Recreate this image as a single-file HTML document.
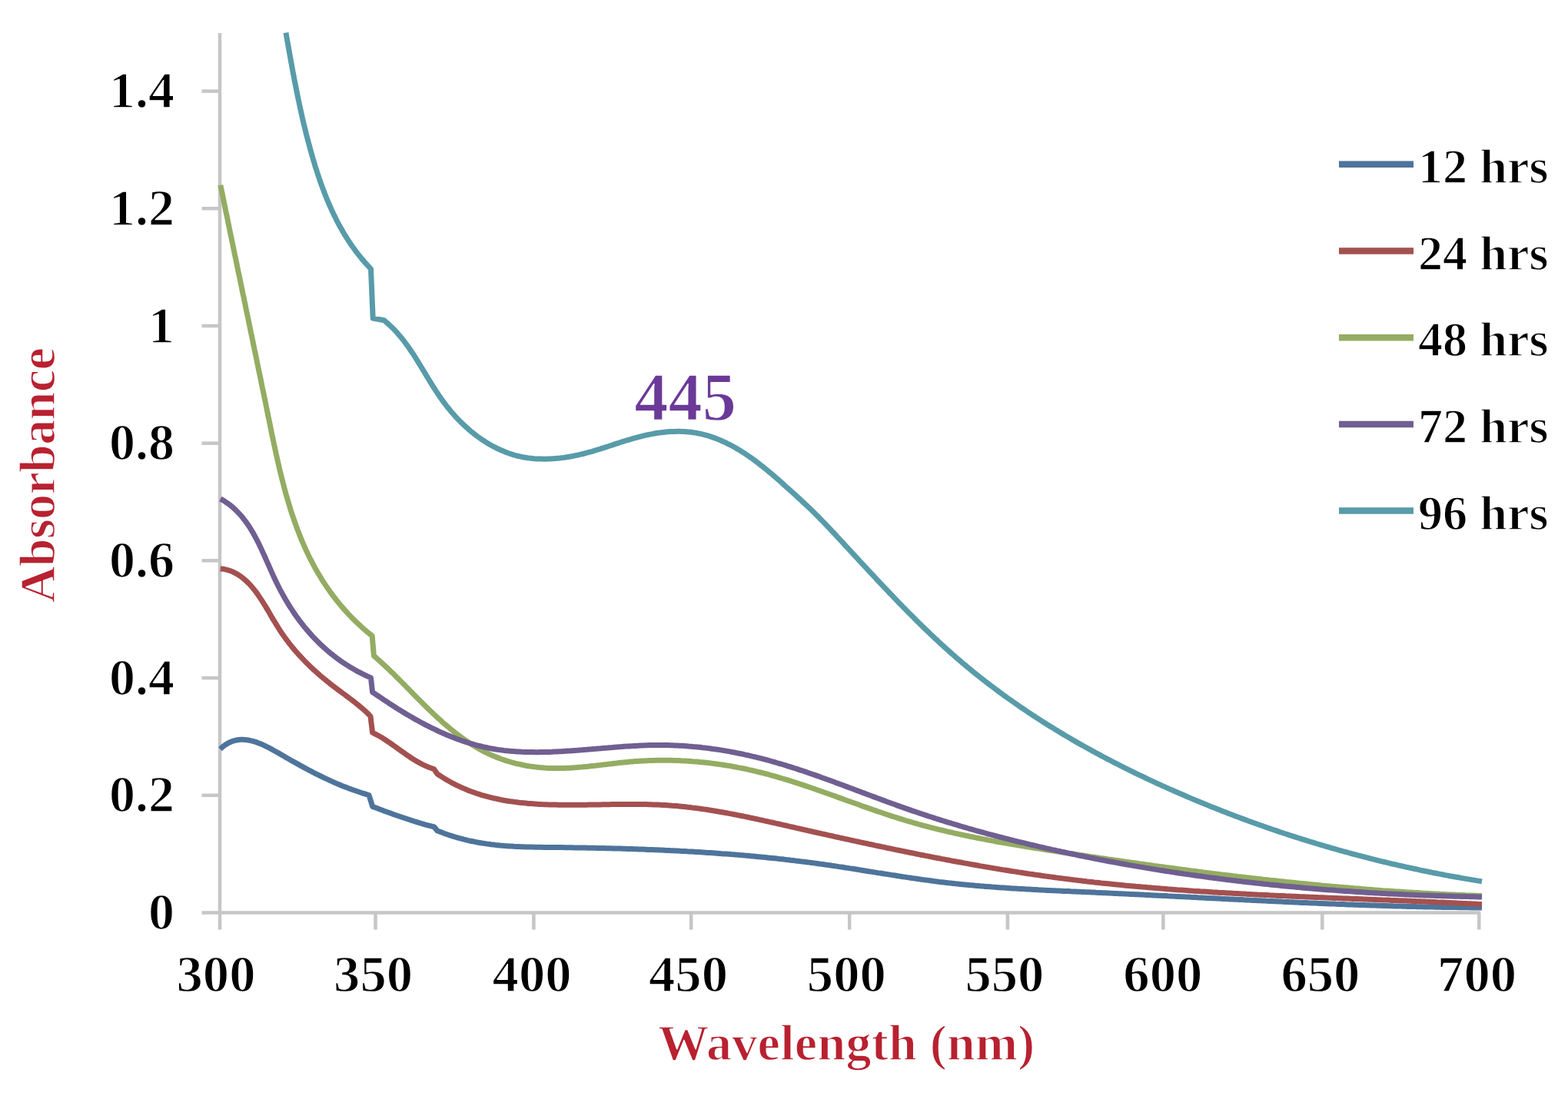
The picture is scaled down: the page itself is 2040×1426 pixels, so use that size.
<!DOCTYPE html>
<html><head><meta charset="utf-8"><title>Absorbance vs Wavelength</title>
<style>
html,body{margin:0;padding:0;background:#fff;}
body{width:2040px;height:1426px;overflow:hidden;}
svg{display:block;filter:blur(0.75px);}
</style></head><body>
<svg width="2040" height="1426" viewBox="0 0 2040 1426">
<rect width="2040" height="1426" fill="#fff"/>
<g stroke="#c6c6c6" stroke-width="4.5" fill="none">
<line x1="286" y1="43" x2="286" y2="1209.5"/>
<line x1="262.5" y1="1187.5" x2="1926" y2="1187.5"/>
<line x1="262.5" y1="1034.8" x2="286" y2="1034.8"/>
<line x1="262.5" y1="882.1" x2="286" y2="882.1"/>
<line x1="262.5" y1="729.4" x2="286" y2="729.4"/>
<line x1="262.5" y1="576.7" x2="286" y2="576.7"/>
<line x1="262.5" y1="424.0" x2="286" y2="424.0"/>
<line x1="262.5" y1="271.3" x2="286" y2="271.3"/>
<line x1="262.5" y1="118.6" x2="286" y2="118.6"/>
<line x1="488.5" y1="1187.5" x2="488.5" y2="1209.5"/>
<line x1="694.4" y1="1187.5" x2="694.4" y2="1209.5"/>
<line x1="899.2" y1="1187.5" x2="899.2" y2="1209.5"/>
<line x1="1105.2" y1="1187.5" x2="1105.2" y2="1209.5"/>
<line x1="1310.9" y1="1187.5" x2="1310.9" y2="1209.5"/>
<line x1="1513.4" y1="1187.5" x2="1513.4" y2="1209.5"/>
<line x1="1720.3" y1="1187.5" x2="1720.3" y2="1209.5"/>
<line x1="1924.3" y1="1187.5" x2="1924.3" y2="1209.5"/>
</g>
<g fill="none" stroke-width="7.0" stroke-linejoin="round" stroke-linecap="butt">
<path stroke="#4e749b" d="M286.5 974.7 L289.0 972.3 291.6 970.2 294.3 968.4 296.9 966.8 299.6 965.5 302.3 964.4 305.0 963.6 307.7 963.0 310.5 962.5 313.2 962.3 316.0 962.3 318.7 962.4 321.5 962.7 324.3 963.2 327.0 963.8 329.8 964.5 332.6 965.4 335.4 966.4 338.2 967.5 341.0 968.6 343.8 969.9 346.6 971.3 349.4 972.7 352.2 974.1 355.0 975.7 357.7 977.2 360.5 978.8 363.3 980.4 366.1 982.0 368.8 983.6 371.6 985.2 374.3 986.8 377.0 988.3 379.7 989.9 382.5 991.4 385.2 992.9 387.9 994.4 390.6 995.9 393.3 997.4 396.0 998.9 398.7 1000.3 401.4 1001.8 404.1 1003.2 406.8 1004.6 409.5 1006.0 412.2 1007.3 414.9 1008.7 417.6 1010.0 420.3 1011.3 423.0 1012.6 425.8 1013.9 428.5 1015.2 431.2 1016.4 434.0 1017.7 436.8 1018.9 439.5 1020.1 442.3 1021.2 445.1 1022.4 447.9 1023.5 450.8 1024.6 453.6 1025.7 456.5 1026.8 459.3 1027.8 462.2 1028.8 465.2 1029.8 468.1 1030.8 471.0 1031.8 474.0 1032.7 477.0 1033.6 480.0 1034.5 L484.7 1049.4 L487.6 1050.5 490.5 1051.6 493.4 1052.7 496.4 1053.8 499.3 1054.9 502.2 1056.0 505.2 1057.0 508.1 1058.1 511.1 1059.2 514.0 1060.2 517.0 1061.3 520.0 1062.3 522.9 1063.3 525.9 1064.3 528.9 1065.3 531.9 1066.3 534.9 1067.3 537.9 1068.2 540.9 1069.2 543.9 1070.1 546.9 1071.0 549.9 1071.9 552.9 1072.8 555.9 1073.6 558.9 1074.4 562.0 1075.2 565.0 1076.0 L569.0 1081.0 L571.9 1082.0 574.7 1083.1 577.6 1084.2 580.5 1085.2 583.4 1086.2 586.3 1087.2 589.2 1088.1 592.1 1089.0 595.0 1089.9 597.9 1090.7 600.8 1091.4 603.7 1092.2 606.6 1092.9 609.5 1093.6 612.5 1094.2 615.4 1094.8 618.3 1095.4 621.3 1096.0 624.2 1096.5 627.2 1097.0 630.1 1097.4 633.1 1097.9 636.0 1098.3 639.0 1098.7 642.0 1099.0 644.9 1099.4 647.9 1099.7 650.9 1100.0 653.8 1100.2 656.8 1100.5 659.8 1100.7 662.8 1100.9 665.8 1101.1 668.8 1101.3 671.7 1101.4 674.7 1101.5 677.7 1101.7 680.7 1101.8 683.7 1101.9 686.7 1102.0 689.7 1102.1 692.7 1102.1 695.7 1102.2 698.7 1102.2 701.7 1102.3 704.7 1102.3 707.7 1102.4 710.7 1102.4 713.8 1102.4 716.8 1102.5 719.8 1102.5 722.8 1102.5 725.8 1102.6 728.8 1102.6 731.8 1102.6 734.8 1102.7 737.8 1102.7 740.8 1102.8 743.8 1102.8 746.8 1102.9 749.8 1102.9 752.8 1103.0 755.8 1103.0 758.9 1103.1 761.9 1103.1 764.9 1103.2 767.9 1103.2 770.9 1103.3 773.9 1103.3 776.9 1103.4 779.9 1103.5 782.9 1103.5 785.9 1103.6 788.9 1103.7 791.9 1103.7 794.9 1103.8 797.9 1103.9 801.0 1104.0 804.0 1104.1 807.0 1104.1 810.0 1104.2 813.0 1104.3 816.0 1104.4 819.0 1104.5 822.0 1104.6 825.0 1104.7 828.0 1104.8 831.0 1104.9 834.0 1105.0 837.0 1105.1 840.0 1105.2 843.0 1105.4 846.0 1105.5 849.0 1105.6 852.0 1105.7 855.1 1105.8 858.1 1106.0 861.1 1106.1 864.1 1106.2 867.1 1106.4 870.1 1106.5 873.1 1106.7 876.1 1106.8 879.1 1107.0 882.1 1107.1 885.1 1107.3 888.1 1107.4 891.1 1107.6 894.1 1107.8 897.1 1107.9 900.1 1108.1 903.1 1108.3 906.1 1108.5 909.1 1108.6 912.1 1108.8 915.1 1109.0 918.1 1109.2 921.1 1109.4 924.1 1109.6 927.1 1109.8 930.1 1110.0 933.1 1110.2 936.1 1110.4 939.1 1110.7 942.1 1110.9 945.1 1111.1 948.1 1111.3 951.1 1111.6 954.1 1111.8 957.1 1112.1 960.1 1112.3 963.0 1112.6 966.0 1112.8 969.0 1113.1 972.0 1113.3 975.0 1113.6 978.0 1113.9 981.0 1114.1 984.0 1114.4 987.0 1114.7 990.0 1115.0 993.0 1115.3 996.0 1115.6 999.0 1115.9 1001.9 1116.2 1004.9 1116.5 1007.9 1116.8 1010.9 1117.1 1013.9 1117.5 1016.9 1117.8 1019.9 1118.1 1022.9 1118.5 1025.8 1118.8 1028.8 1119.2 1031.8 1119.5 1034.8 1119.9 1037.8 1120.2 1040.8 1120.6 1043.7 1121.0 1046.7 1121.3 1049.7 1121.7 1052.7 1122.1 1055.7 1122.5 1058.7 1122.9 1061.6 1123.3 1064.6 1123.7 1067.6 1124.1 1070.6 1124.5 1073.6 1125.0 1076.5 1125.4 1079.5 1125.8 1082.5 1126.3 1085.5 1126.7 1088.4 1127.1 1091.4 1127.6 1094.4 1128.0 1097.4 1128.5 1100.3 1129.0 1103.3 1129.4 1106.3 1129.9 1109.2 1130.3 1112.2 1130.8 1115.2 1131.3 1118.2 1131.8 1121.1 1132.2 1124.1 1132.7 1127.1 1133.2 1130.1 1133.7 1133.0 1134.1 1136.0 1134.6 1139.0 1135.1 1141.9 1135.6 1144.9 1136.0 1147.9 1136.5 1150.9 1137.0 1153.8 1137.4 1156.8 1137.9 1159.8 1138.4 1162.8 1138.8 1165.7 1139.3 1168.7 1139.8 1171.7 1140.2 1174.6 1140.7 1177.6 1141.1 1180.6 1141.6 1183.6 1142.0 1186.5 1142.5 1189.5 1142.9 1192.5 1143.3 1195.5 1143.8 1198.5 1144.2 1201.4 1144.6 1204.4 1145.0 1207.4 1145.4 1210.4 1145.8 1213.3 1146.2 1216.3 1146.6 1219.3 1147.0 1222.3 1147.4 1225.3 1147.7 1228.3 1148.1 1231.2 1148.4 1234.2 1148.8 1237.2 1149.1 1240.2 1149.4 1243.2 1149.8 1246.2 1150.1 1249.2 1150.4 1252.2 1150.7 1255.1 1151.0 1258.1 1151.3 1261.1 1151.6 1264.1 1151.8 1267.1 1152.1 1270.1 1152.4 1273.1 1152.6 1276.1 1152.9 1279.1 1153.1 1282.1 1153.4 1285.1 1153.6 1288.1 1153.8 1291.1 1154.1 1294.1 1154.3 1297.1 1154.5 1300.1 1154.7 1303.1 1154.9 1306.1 1155.1 1309.1 1155.3 1312.1 1155.5 1315.1 1155.7 1318.1 1155.9 1321.1 1156.1 1324.1 1156.3 1327.1 1156.5 1330.1 1156.6 1333.1 1156.8 1336.1 1157.0 1339.1 1157.1 1342.1 1157.3 1345.1 1157.5 1348.1 1157.6 1351.1 1157.8 1354.1 1157.9 1357.1 1158.1 1360.1 1158.2 1363.1 1158.4 1366.1 1158.5 1369.1 1158.7 1372.1 1158.8 1375.1 1159.0 1378.1 1159.1 1381.1 1159.2 1384.1 1159.4 1387.1 1159.5 1390.1 1159.6 1393.2 1159.8 1396.2 1159.9 1399.2 1160.0 1402.2 1160.2 1405.2 1160.3 1408.2 1160.4 1411.2 1160.6 1414.2 1160.7 1417.2 1160.8 1420.2 1161.0 1423.2 1161.1 1426.2 1161.3 1429.2 1161.4 1432.2 1161.5 1435.2 1161.7 1438.2 1161.8 1441.2 1161.9 1444.2 1162.1 1447.3 1162.2 1450.3 1162.4 1453.3 1162.5 1456.3 1162.7 1459.3 1162.8 1462.3 1162.9 1465.3 1163.1 1468.3 1163.2 1471.3 1163.4 1474.3 1163.5 1477.3 1163.7 1480.3 1163.8 1483.3 1164.0 1486.3 1164.1 1489.3 1164.3 1492.3 1164.4 1495.3 1164.6 1498.3 1164.7 1501.3 1164.9 1504.3 1165.0 1507.3 1165.2 1510.3 1165.3 1513.3 1165.5 1516.3 1165.6 1519.4 1165.8 1522.4 1165.9 1525.4 1166.1 1528.4 1166.2 1531.4 1166.4 1534.4 1166.5 1537.4 1166.7 1540.4 1166.8 1543.4 1167.0 1546.4 1167.1 1549.4 1167.3 1552.4 1167.4 1555.4 1167.6 1558.4 1167.8 1561.4 1167.9 1564.4 1168.1 1567.4 1168.2 1570.4 1168.4 1573.4 1168.5 1576.4 1168.7 1579.4 1168.8 1582.4 1169.0 1585.4 1169.1 1588.4 1169.3 1591.4 1169.4 1594.4 1169.6 1597.4 1169.7 1600.4 1169.9 1603.4 1170.0 1606.4 1170.2 1609.4 1170.3 1612.4 1170.5 1615.4 1170.6 1618.4 1170.8 1621.4 1170.9 1624.5 1171.1 1627.5 1171.2 1630.5 1171.4 1633.5 1171.5 1636.5 1171.7 1639.5 1171.8 1642.5 1172.0 1645.5 1172.1 1648.5 1172.3 1651.5 1172.4 1654.5 1172.5 1657.5 1172.7 1660.5 1172.8 1663.5 1173.0 1666.5 1173.1 1669.5 1173.3 1672.5 1173.4 1675.5 1173.5 1678.5 1173.7 1681.5 1173.8 1684.5 1173.9 1687.5 1174.1 1690.5 1174.2 1693.5 1174.4 1696.5 1174.5 1699.5 1174.6 1702.5 1174.8 1705.5 1174.9 1708.5 1175.0 1711.5 1175.1 1714.5 1175.3 1717.5 1175.4 1720.5 1175.5 1723.6 1175.7 1726.6 1175.8 1729.6 1175.9 1732.6 1176.0 1735.6 1176.1 1738.6 1176.3 1741.6 1176.4 1744.6 1176.5 1747.6 1176.6 1750.6 1176.7 1753.6 1176.9 1756.6 1177.0 1759.6 1177.1 1762.6 1177.2 1765.6 1177.3 1768.6 1177.4 1771.6 1177.5 1774.6 1177.6 1777.6 1177.7 1780.6 1177.8 1783.6 1177.9 1786.6 1178.0 1789.6 1178.1 1792.7 1178.2 1795.7 1178.3 1798.7 1178.4 1801.7 1178.5 1804.7 1178.6 1807.7 1178.7 1810.7 1178.8 1813.7 1178.9 1816.7 1179.0 1819.7 1179.1 1822.7 1179.1 1825.7 1179.2 1828.7 1179.3 1831.7 1179.4 1834.7 1179.5 1837.7 1179.5 1840.7 1179.6 1843.8 1179.7 1846.8 1179.8 1849.8 1179.8 1852.8 1179.9 1855.8 1180.0 1858.8 1180.0 1861.8 1180.1 1864.8 1180.1 1867.8 1180.2 1870.8 1180.3 1873.8 1180.3 1876.8 1180.4 1879.8 1180.4 1882.9 1180.5 1885.9 1180.5 1888.9 1180.6 1891.9 1180.6 1894.9 1180.6 1897.9 1180.7 1900.9 1180.7 1903.9 1180.8 1906.9 1180.8 1909.9 1180.8 1913.0 1180.9 1916.0 1180.9 1919.0 1180.9 1922.0 1180.9 1925.0 1180.9 1928.0 1181.0"/>
<path stroke="#a35150" d="M286.7 739.9 L289.9 740.2 293.1 740.9 296.1 741.6 299.0 742.5 301.8 743.6 304.5 744.8 307.1 746.2 309.6 747.6 312.1 749.2 314.4 750.9 316.7 752.7 318.9 754.6 321.1 756.6 323.2 758.6 325.2 760.7 327.2 763.0 329.1 765.2 331.0 767.6 332.8 769.9 334.6 772.4 336.3 774.8 338.0 777.4 339.7 779.9 341.4 782.5 343.0 785.1 344.7 787.7 346.3 790.4 347.9 793.1 349.5 795.8 351.1 798.5 352.6 801.2 354.2 803.9 355.8 806.6 357.4 809.2 359.1 811.9 360.7 814.6 362.3 817.2 364.0 819.8 365.7 822.4 367.5 825.0 369.2 827.5 371.0 830.0 372.8 832.5 374.7 834.9 376.5 837.3 378.4 839.7 380.3 842.1 382.3 844.4 384.2 846.7 386.2 849.0 388.2 851.3 390.3 853.5 392.3 855.7 394.4 857.9 396.5 860.1 398.6 862.2 400.8 864.4 402.9 866.5 405.1 868.6 407.3 870.6 409.5 872.7 411.8 874.7 414.0 876.7 416.3 878.7 418.6 880.6 420.9 882.6 423.3 884.5 425.6 886.4 428.0 888.3 430.3 890.2 432.7 892.1 435.2 893.9 437.6 895.8 440.0 897.6 442.5 899.4 444.9 901.2 447.4 903.0 449.8 904.8 452.2 906.7 454.7 908.5 457.1 910.3 459.5 912.1 461.9 914.0 464.3 915.9 466.6 917.8 468.9 919.7 471.2 921.6 473.5 923.6 475.7 925.6 477.9 927.7 480.0 929.8 482.0 932.0 L484.6 953.2 L487.4 954.6 490.2 956.0 492.9 957.5 495.6 959.0 498.2 960.6 500.8 962.3 503.4 964.0 506.0 965.7 508.6 967.5 511.1 969.3 513.7 971.1 516.2 972.9 518.8 974.8 521.3 976.6 523.8 978.4 526.4 980.2 528.9 982.0 531.5 983.7 534.1 985.5 536.7 987.2 539.3 988.8 541.9 990.4 544.6 991.9 547.3 993.4 550.1 994.8 552.9 996.1 555.7 997.4 558.6 998.5 561.5 999.6 564.5 1000.5 L569.0 1007.0 L571.6 1008.7 574.2 1010.4 576.9 1012.1 579.5 1013.7 582.2 1015.3 584.8 1016.8 587.5 1018.3 590.2 1019.7 592.9 1021.1 595.7 1022.4 598.4 1023.7 601.1 1024.9 603.9 1026.1 606.7 1027.3 609.4 1028.4 612.2 1029.5 615.0 1030.5 617.8 1031.5 620.6 1032.5 623.5 1033.4 626.3 1034.3 629.1 1035.1 632.0 1035.9 634.8 1036.7 637.7 1037.4 640.6 1038.1 643.5 1038.8 646.4 1039.4 649.2 1040.0 652.1 1040.6 655.1 1041.2 658.0 1041.7 660.9 1042.2 663.8 1042.6 666.8 1043.0 669.7 1043.4 672.6 1043.8 675.6 1044.2 678.5 1044.5 681.5 1044.8 684.5 1045.1 687.4 1045.4 690.4 1045.6 693.4 1045.8 696.4 1046.0 699.4 1046.2 702.3 1046.4 705.3 1046.6 708.3 1046.7 711.3 1046.8 714.3 1046.9 717.3 1047.0 720.3 1047.1 723.3 1047.1 726.3 1047.2 729.4 1047.2 732.4 1047.3 735.4 1047.3 738.4 1047.3 741.4 1047.3 744.4 1047.3 747.4 1047.3 750.5 1047.3 753.5 1047.3 756.5 1047.2 759.5 1047.2 762.6 1047.2 765.6 1047.1 768.6 1047.1 771.6 1047.0 774.7 1047.0 777.7 1046.9 780.7 1046.9 783.7 1046.8 786.8 1046.8 789.8 1046.7 792.8 1046.7 795.8 1046.6 798.9 1046.6 801.9 1046.6 804.9 1046.5 807.9 1046.5 811.0 1046.5 814.0 1046.4 817.0 1046.4 820.0 1046.4 823.1 1046.4 826.1 1046.4 829.1 1046.4 832.1 1046.5 835.1 1046.5 838.1 1046.5 841.2 1046.6 844.2 1046.7 847.2 1046.8 850.2 1046.9 853.2 1047.0 856.2 1047.1 859.2 1047.2 862.2 1047.4 865.2 1047.5 868.2 1047.7 871.2 1047.9 874.2 1048.2 877.2 1048.4 880.2 1048.6 883.1 1048.9 886.1 1049.2 889.1 1049.5 892.1 1049.8 895.1 1050.2 898.0 1050.5 901.0 1050.9 904.0 1051.2 906.9 1051.6 909.9 1052.0 912.9 1052.5 915.8 1052.9 918.8 1053.3 921.8 1053.8 924.7 1054.2 927.7 1054.7 930.6 1055.2 933.6 1055.7 936.5 1056.2 939.5 1056.7 942.4 1057.3 945.4 1057.8 948.3 1058.4 951.3 1058.9 954.2 1059.5 957.2 1060.0 960.1 1060.6 963.1 1061.2 966.0 1061.8 968.9 1062.4 971.9 1063.0 974.8 1063.6 977.8 1064.3 980.7 1064.9 983.6 1065.5 986.6 1066.1 989.5 1066.8 992.4 1067.4 995.4 1068.1 998.3 1068.7 1001.2 1069.4 1004.2 1070.0 1007.1 1070.7 1010.0 1071.4 1013.0 1072.0 1015.9 1072.7 1018.8 1073.4 1021.8 1074.0 1024.7 1074.7 1027.6 1075.4 1030.6 1076.0 1033.5 1076.7 1036.4 1077.4 1039.4 1078.0 1042.3 1078.7 1045.2 1079.3 1048.2 1080.0 1051.1 1080.7 1054.0 1081.3 1057.0 1082.0 1059.9 1082.7 1062.8 1083.3 1065.8 1084.0 1068.7 1084.6 1071.6 1085.3 1074.6 1085.9 1077.5 1086.6 1080.5 1087.2 1083.4 1087.9 1086.3 1088.6 1089.3 1089.2 1092.2 1089.9 1095.1 1090.5 1098.1 1091.1 1101.0 1091.8 1104.0 1092.4 1106.9 1093.1 1109.8 1093.7 1112.8 1094.4 1115.7 1095.0 1118.6 1095.6 1121.6 1096.3 1124.5 1096.9 1127.5 1097.5 1130.4 1098.2 1133.4 1098.8 1136.3 1099.4 1139.2 1100.1 1142.2 1100.7 1145.1 1101.3 1148.1 1101.9 1151.0 1102.5 1153.9 1103.2 1156.9 1103.8 1159.8 1104.4 1162.8 1105.0 1165.7 1105.6 1168.7 1106.2 1171.6 1106.8 1174.6 1107.4 1177.5 1108.0 1180.5 1108.6 1183.4 1109.2 1186.3 1109.8 1189.3 1110.4 1192.2 1111.0 1195.2 1111.6 1198.1 1112.2 1201.1 1112.8 1204.0 1113.4 1207.0 1113.9 1209.9 1114.5 1212.9 1115.1 1215.8 1115.7 1218.8 1116.2 1221.7 1116.8 1224.7 1117.4 1227.6 1117.9 1230.6 1118.5 1233.5 1119.0 1236.5 1119.6 1239.5 1120.2 1242.4 1120.7 1245.4 1121.3 1248.3 1121.8 1251.3 1122.3 1254.2 1122.9 1257.2 1123.4 1260.1 1123.9 1263.1 1124.5 1266.1 1125.0 1269.0 1125.5 1272.0 1126.0 1274.9 1126.6 1277.9 1127.1 1280.9 1127.6 1283.8 1128.1 1286.8 1128.6 1289.7 1129.1 1292.7 1129.6 1295.7 1130.1 1298.6 1130.6 1301.6 1131.1 1304.6 1131.6 1307.5 1132.0 1310.5 1132.5 1313.5 1133.0 1316.4 1133.5 1319.4 1133.9 1322.4 1134.4 1325.3 1134.9 1328.3 1135.3 1331.3 1135.8 1334.2 1136.2 1337.2 1136.7 1340.2 1137.1 1343.1 1137.5 1346.1 1138.0 1349.1 1138.4 1352.1 1138.8 1355.0 1139.3 1358.0 1139.7 1361.0 1140.1 1364.0 1140.5 1366.9 1140.9 1369.9 1141.3 1372.9 1141.7 1375.9 1142.1 1378.8 1142.5 1381.8 1142.9 1384.8 1143.3 1387.8 1143.6 1390.8 1144.0 1393.7 1144.4 1396.7 1144.8 1399.7 1145.1 1402.7 1145.5 1405.7 1145.8 1408.7 1146.2 1411.6 1146.5 1414.6 1146.9 1417.6 1147.2 1420.6 1147.5 1423.6 1147.9 1426.6 1148.2 1429.6 1148.5 1432.6 1148.9 1435.5 1149.2 1438.5 1149.5 1441.5 1149.8 1444.5 1150.1 1447.5 1150.4 1450.5 1150.7 1453.5 1151.0 1456.5 1151.3 1459.5 1151.6 1462.5 1151.9 1465.5 1152.2 1468.4 1152.4 1471.4 1152.7 1474.4 1153.0 1477.4 1153.3 1480.4 1153.5 1483.4 1153.8 1486.4 1154.1 1489.4 1154.3 1492.4 1154.6 1495.4 1154.8 1498.4 1155.1 1501.4 1155.3 1504.4 1155.6 1507.4 1155.8 1510.4 1156.1 1513.4 1156.3 1516.4 1156.5 1519.4 1156.8 1522.4 1157.0 1525.4 1157.2 1528.4 1157.4 1531.4 1157.7 1534.4 1157.9 1537.4 1158.1 1540.4 1158.3 1543.4 1158.5 1546.4 1158.7 1549.4 1158.9 1552.4 1159.2 1555.4 1159.4 1558.4 1159.6 1561.4 1159.8 1564.4 1159.9 1567.4 1160.1 1570.4 1160.3 1573.5 1160.5 1576.5 1160.7 1579.5 1160.9 1582.5 1161.1 1585.5 1161.3 1588.5 1161.4 1591.5 1161.6 1594.5 1161.8 1597.5 1162.0 1600.5 1162.1 1603.5 1162.3 1606.5 1162.5 1609.5 1162.6 1612.5 1162.8 1615.5 1163.0 1618.6 1163.1 1621.6 1163.3 1624.6 1163.4 1627.6 1163.6 1630.6 1163.7 1633.6 1163.9 1636.6 1164.1 1639.6 1164.2 1642.6 1164.3 1645.6 1164.5 1648.6 1164.6 1651.6 1164.8 1654.7 1164.9 1657.7 1165.1 1660.7 1165.2 1663.7 1165.4 1666.7 1165.5 1669.7 1165.6 1672.7 1165.8 1675.7 1165.9 1678.7 1166.0 1681.7 1166.2 1684.7 1166.3 1687.8 1166.4 1690.8 1166.6 1693.8 1166.7 1696.8 1166.8 1699.8 1166.9 1702.8 1167.1 1705.8 1167.2 1708.8 1167.3 1711.8 1167.4 1714.8 1167.6 1717.8 1167.7 1720.9 1167.8 1723.9 1167.9 1726.9 1168.1 1729.9 1168.2 1732.9 1168.3 1735.9 1168.4 1738.9 1168.5 1741.9 1168.7 1744.9 1168.8 1747.9 1168.9 1750.9 1169.0 1753.9 1169.1 1757.0 1169.3 1760.0 1169.4 1763.0 1169.5 1766.0 1169.6 1769.0 1169.7 1772.0 1169.8 1775.0 1170.0 1778.0 1170.1 1781.0 1170.2 1784.0 1170.3 1787.0 1170.4 1790.0 1170.5 1793.0 1170.7 1796.0 1170.8 1799.0 1170.9 1802.0 1171.0 1805.1 1171.1 1808.1 1171.2 1811.1 1171.4 1814.1 1171.5 1817.1 1171.6 1820.1 1171.7 1823.1 1171.8 1826.1 1172.0 1829.1 1172.1 1832.1 1172.2 1835.1 1172.3 1838.1 1172.5 1841.1 1172.6 1844.1 1172.7 1847.1 1172.8 1850.1 1173.0 1853.1 1173.1 1856.1 1173.2 1859.1 1173.3 1862.1 1173.5 1865.1 1173.6 1868.1 1173.7 1871.1 1173.9 1874.1 1174.0 1877.1 1174.1 1880.1 1174.2 1883.1 1174.4 1886.1 1174.5 1889.1 1174.7 1892.1 1174.8 1895.1 1174.9 1898.1 1175.1 1901.1 1175.2 1904.0 1175.4 1907.0 1175.5 1910.0 1175.7 1913.0 1175.8 1916.0 1175.9 1919.0 1176.1 1922.0 1176.3 1925.0 1176.4 1928.0 1176.5"/>
<path stroke="#94ac62" d="M287.0 240.7 L287.4 243.7 288.1 246.7 288.7 249.6 289.3 252.6 289.9 255.6 290.5 258.6 291.1 261.5 291.7 264.5 292.3 267.5 292.9 270.4 293.5 273.4 294.1 276.4 294.8 279.3 295.4 282.3 296.0 285.3 296.6 288.2 297.2 291.2 297.8 294.1 298.4 297.1 299.0 300.1 299.6 303.0 300.2 306.0 300.9 308.9 301.5 311.9 302.1 314.8 302.7 317.8 303.3 320.7 303.9 323.7 304.5 326.6 305.1 329.6 305.7 332.5 306.4 335.5 307.0 338.4 307.6 341.4 308.2 344.3 308.8 347.3 309.4 350.2 310.0 353.2 310.6 356.1 311.3 359.1 311.9 362.0 312.5 365.0 313.1 367.9 313.7 370.9 314.3 373.8 314.9 376.8 315.5 379.7 316.1 382.7 316.8 385.6 317.4 388.5 318.0 391.5 318.6 394.4 319.2 397.4 319.8 400.3 320.4 403.3 321.0 406.2 321.7 409.2 322.3 412.1 322.9 415.1 323.5 418.0 324.1 421.0 324.7 423.9 325.3 426.8 325.9 429.8 326.5 432.7 327.2 435.7 327.8 438.6 328.4 441.6 329.0 444.5 329.6 447.5 330.2 450.4 330.8 453.4 331.4 456.3 332.1 459.3 332.7 462.2 333.3 465.2 333.9 468.1 334.5 471.1 335.1 474.1 335.7 477.0 336.3 480.0 336.9 482.9 337.6 485.9 338.2 488.8 338.8 491.8 339.4 494.8 340.0 497.7 340.6 500.7 341.2 503.7 341.8 506.6 342.4 509.6 343.1 512.5 343.7 515.5 344.3 518.5 344.9 521.4 345.5 524.4 346.1 527.4 346.7 530.4 347.3 533.3 347.9 536.3 348.5 539.3 349.1 542.3 349.8 545.2 350.4 548.2 351.0 551.2 351.6 554.2 352.2 557.2 352.8 560.2 353.4 563.1 354.0 566.1 354.7 569.1 355.3 572.1 355.9 575.1 356.5 578.0 357.2 581.0 357.8 584.0 358.5 587.0 359.1 590.0 359.8 592.9 360.4 595.9 361.1 598.9 361.8 601.8 362.5 604.8 363.1 607.8 363.8 610.7 364.5 613.7 365.3 616.6 366.0 619.6 366.7 622.5 367.5 625.5 368.2 628.4 369.0 631.3 369.7 634.3 370.5 637.2 371.3 640.1 372.1 643.0 372.9 645.9 373.8 648.8 374.6 651.7 375.5 654.6 376.4 657.5 377.2 660.4 378.1 663.2 379.0 666.1 380.0 669.0 380.9 671.8 381.9 674.6 382.9 677.5 383.9 680.3 384.9 683.1 385.9 685.9 386.9 688.7 388.0 691.5 389.1 694.3 390.2 697.1 391.3 699.9 392.4 702.6 393.6 705.4 394.8 708.1 396.0 710.9 397.2 713.6 398.4 716.3 399.7 719.0 401.0 721.7 402.3 724.4 403.6 727.0 405.0 729.7 406.4 732.3 407.8 735.0 409.2 737.6 410.6 740.2 412.1 742.8 413.6 745.4 415.1 747.9 416.7 750.5 418.2 753.0 419.8 755.6 421.4 758.1 423.1 760.6 424.8 763.1 426.4 765.5 428.2 768.0 429.9 770.4 431.7 772.9 433.5 775.3 435.3 777.7 437.1 780.0 439.0 782.4 440.9 784.7 442.8 787.1 444.8 789.4 446.7 791.6 448.7 793.9 450.8 796.2 452.8 798.4 454.9 800.6 457.0 802.8 459.1 805.0 461.3 807.1 463.5 809.2 465.7 811.4 467.9 813.4 470.2 815.5 472.5 817.6 474.8 819.6 477.1 821.6 479.5 823.6 481.9 825.5 484.2 827.5 L486.4 853.3 L488.6 855.2 490.8 857.2 493.0 859.1 495.2 861.1 497.4 863.1 499.6 865.1 501.8 867.1 503.9 869.1 506.1 871.2 508.2 873.3 510.4 875.3 512.5 877.4 514.6 879.6 516.8 881.7 518.9 883.8 521.0 885.9 523.2 888.1 525.3 890.2 527.4 892.4 529.5 894.5 531.7 896.7 533.8 898.9 535.9 901.0 538.0 903.2 540.2 905.4 542.3 907.6 544.5 909.7 546.6 911.9 548.8 914.0 550.9 916.2 553.1 918.3 555.3 920.5 557.5 922.6 559.7 924.7 561.9 926.8 564.1 929.0 566.3 931.0 568.6 933.1 570.8 935.2 573.1 937.2 575.4 939.3 577.7 941.3 580.0 943.3 582.3 945.2 584.6 947.2 586.9 949.1 589.3 951.0 591.7 952.9 594.1 954.8 596.5 956.6 598.9 958.4 601.3 960.2 603.7 961.9 606.2 963.6 608.7 965.3 611.2 967.0 613.7 968.6 616.2 970.2 618.7 971.7 621.3 973.2 623.9 974.7 626.5 976.1 629.1 977.5 631.7 978.8 634.3 980.1 637.0 981.4 639.7 982.6 642.4 983.7 645.1 984.9 647.8 985.9 650.6 987.0 653.4 988.0 656.1 988.9 658.9 989.8 661.7 990.7 664.6 991.5 667.4 992.3 670.2 993.1 673.1 993.8 676.0 994.4 678.9 995.0 681.7 995.6 684.7 996.2 687.6 996.7 690.5 997.1 693.4 997.5 696.4 997.9 699.3 998.3 702.3 998.6 705.2 998.8 708.2 999.1 711.2 999.3 714.1 999.4 717.1 999.5 720.1 999.6 723.1 999.6 726.1 999.6 729.1 999.6 732.1 999.5 735.1 999.5 738.1 999.3 741.1 999.2 744.2 999.0 747.2 998.8 750.2 998.6 753.2 998.3 756.3 998.1 759.3 997.8 762.3 997.5 765.4 997.2 768.4 996.8 771.4 996.5 774.5 996.2 777.5 995.8 780.5 995.5 783.6 995.1 786.6 994.7 789.6 994.4 792.7 994.0 795.7 993.7 798.8 993.3 801.8 993.0 804.8 992.6 807.9 992.3 810.9 992.0 813.9 991.7 817.0 991.4 820.0 991.1 823.0 990.9 826.1 990.6 829.1 990.4 832.1 990.2 835.1 990.0 838.2 989.9 841.2 989.7 844.2 989.6 847.2 989.5 850.2 989.4 853.2 989.3 856.2 989.3 859.2 989.2 862.3 989.2 865.3 989.2 868.3 989.2 871.3 989.3 874.3 989.3 877.3 989.4 880.2 989.5 883.2 989.6 886.2 989.8 889.2 989.9 892.2 990.1 895.2 990.2 898.2 990.4 901.1 990.7 904.1 990.9 907.1 991.1 910.1 991.4 913.0 991.7 916.0 992.0 919.0 992.3 921.9 992.6 924.9 993.0 927.8 993.4 930.8 993.8 933.7 994.2 936.7 994.6 939.6 995.0 942.6 995.5 945.5 996.0 948.5 996.4 951.4 996.9 954.3 997.5 957.3 998.0 960.2 998.6 963.1 999.1 966.1 999.7 969.0 1000.3 971.9 1000.9 974.8 1001.6 977.7 1002.2 980.6 1002.9 983.5 1003.6 986.4 1004.3 989.3 1005.0 992.2 1005.7 995.1 1006.5 998.0 1007.2 1000.9 1008.0 1003.8 1008.8 1006.7 1009.6 1009.6 1010.4 1012.5 1011.3 1015.3 1012.1 1018.2 1013.0 1021.1 1013.8 1024.0 1014.7 1026.8 1015.6 1029.7 1016.5 1032.6 1017.4 1035.4 1018.3 1038.3 1019.2 1041.1 1020.2 1044.0 1021.1 1046.9 1022.1 1049.7 1023.1 1052.6 1024.0 1055.4 1025.0 1058.3 1026.0 1061.1 1027.0 1064.0 1028.0 1066.8 1029.0 1069.7 1030.0 1072.5 1031.0 1075.4 1032.0 1078.2 1033.0 1081.1 1034.0 1083.9 1035.0 1086.8 1036.1 1089.6 1037.1 1092.5 1038.1 1095.3 1039.1 1098.2 1040.2 1101.0 1041.2 1103.9 1042.2 1106.7 1043.3 1109.6 1044.3 1112.4 1045.3 1115.3 1046.3 1118.1 1047.3 1121.0 1048.4 1123.8 1049.4 1126.7 1050.4 1129.5 1051.4 1132.4 1052.4 1135.2 1053.4 1138.1 1054.4 1140.9 1055.4 1143.8 1056.3 1146.7 1057.3 1149.5 1058.3 1152.4 1059.2 1155.3 1060.2 1158.1 1061.1 1161.0 1062.1 1163.9 1063.0 1166.7 1063.9 1169.6 1064.8 1172.5 1065.7 1175.4 1066.6 1178.2 1067.5 1181.1 1068.3 1184.0 1069.2 1186.9 1070.0 1189.8 1070.9 1192.7 1071.7 1195.6 1072.5 1198.5 1073.3 1201.4 1074.1 1204.3 1074.8 1207.2 1075.6 1210.1 1076.4 1213.0 1077.1 1215.9 1077.8 1218.8 1078.6 1221.7 1079.3 1224.6 1080.0 1227.6 1080.7 1230.5 1081.4 1233.4 1082.1 1236.3 1082.7 1239.2 1083.4 1242.2 1084.1 1245.1 1084.7 1248.0 1085.4 1251.0 1086.0 1253.9 1086.6 1256.8 1087.2 1259.8 1087.8 1262.7 1088.5 1265.6 1089.0 1268.6 1089.6 1271.5 1090.2 1274.4 1090.8 1277.4 1091.4 1280.3 1091.9 1283.3 1092.5 1286.2 1093.1 1289.2 1093.6 1292.1 1094.1 1295.1 1094.7 1298.0 1095.2 1301.0 1095.8 1303.9 1096.3 1306.9 1096.8 1309.8 1097.3 1312.8 1097.8 1315.8 1098.3 1318.7 1098.8 1321.7 1099.3 1324.6 1099.8 1327.6 1100.3 1330.6 1100.8 1333.5 1101.3 1336.5 1101.8 1339.4 1102.2 1342.4 1102.7 1345.4 1103.2 1348.3 1103.7 1351.3 1104.1 1354.3 1104.6 1357.2 1105.1 1360.2 1105.5 1363.2 1106.0 1366.1 1106.5 1369.1 1106.9 1372.1 1107.4 1375.0 1107.8 1378.0 1108.3 1381.0 1108.7 1384.0 1109.2 1386.9 1109.7 1389.9 1110.1 1392.9 1110.6 1395.8 1111.0 1398.8 1111.5 1401.8 1111.9 1404.7 1112.4 1407.7 1112.8 1410.7 1113.3 1413.7 1113.7 1416.6 1114.1 1419.6 1114.6 1422.6 1115.0 1425.6 1115.5 1428.5 1115.9 1431.5 1116.4 1434.5 1116.8 1437.4 1117.2 1440.4 1117.7 1443.4 1118.1 1446.4 1118.5 1449.3 1119.0 1452.3 1119.4 1455.3 1119.8 1458.3 1120.3 1461.3 1120.7 1464.2 1121.1 1467.2 1121.5 1470.2 1122.0 1473.2 1122.4 1476.1 1122.8 1479.1 1123.2 1482.1 1123.7 1485.1 1124.1 1488.0 1124.5 1491.0 1124.9 1494.0 1125.3 1497.0 1125.7 1500.0 1126.2 1502.9 1126.6 1505.9 1127.0 1508.9 1127.4 1511.9 1127.8 1514.9 1128.2 1517.8 1128.6 1520.8 1129.0 1523.8 1129.4 1526.8 1129.8 1529.8 1130.2 1532.8 1130.6 1535.7 1131.0 1538.7 1131.4 1541.7 1131.8 1544.7 1132.2 1547.7 1132.6 1550.6 1133.0 1553.6 1133.3 1556.6 1133.7 1559.6 1134.1 1562.6 1134.5 1565.6 1134.9 1568.6 1135.2 1571.5 1135.6 1574.5 1136.0 1577.5 1136.4 1580.5 1136.7 1583.5 1137.1 1586.5 1137.5 1589.5 1137.9 1592.4 1138.2 1595.4 1138.6 1598.4 1138.9 1601.4 1139.3 1604.4 1139.7 1607.4 1140.0 1610.4 1140.4 1613.3 1140.7 1616.3 1141.1 1619.3 1141.4 1622.3 1141.8 1625.3 1142.1 1628.3 1142.5 1631.3 1142.8 1634.3 1143.2 1637.3 1143.5 1640.2 1143.8 1643.2 1144.2 1646.2 1144.5 1649.2 1144.8 1652.2 1145.2 1655.2 1145.5 1658.2 1145.8 1661.2 1146.1 1664.2 1146.5 1667.2 1146.8 1670.1 1147.1 1673.1 1147.4 1676.1 1147.7 1679.1 1148.0 1682.1 1148.3 1685.1 1148.6 1688.1 1148.9 1691.1 1149.2 1694.1 1149.6 1697.1 1149.8 1700.1 1150.1 1703.1 1150.4 1706.1 1150.7 1709.0 1151.0 1712.0 1151.3 1715.0 1151.6 1718.0 1151.9 1721.0 1152.2 1724.0 1152.4 1727.0 1152.7 1730.0 1153.0 1733.0 1153.3 1736.0 1153.5 1739.0 1153.8 1742.0 1154.1 1745.0 1154.3 1748.0 1154.6 1751.0 1154.8 1754.0 1155.1 1757.0 1155.4 1760.0 1155.6 1763.0 1155.9 1766.0 1156.1 1769.0 1156.3 1772.0 1156.6 1774.9 1156.8 1777.9 1157.1 1780.9 1157.3 1783.9 1157.5 1786.9 1157.8 1789.9 1158.0 1792.9 1158.2 1795.9 1158.4 1798.9 1158.7 1801.9 1158.9 1804.9 1159.1 1807.9 1159.3 1810.9 1159.5 1813.9 1159.7 1816.9 1159.9 1819.9 1160.1 1822.9 1160.3 1825.9 1160.5 1828.9 1160.7 1831.9 1160.9 1834.9 1161.1 1837.9 1161.3 1840.9 1161.5 1843.9 1161.6 1846.9 1161.8 1849.9 1162.0 1852.9 1162.2 1855.9 1162.3 1858.9 1162.5 1861.9 1162.7 1864.9 1162.8 1867.9 1163.0 1870.9 1163.1 1873.9 1163.3 1876.9 1163.4 1879.9 1163.6 1882.9 1163.7 1885.9 1163.9 1889.0 1164.0 1892.0 1164.1 1895.0 1164.3 1898.0 1164.4 1901.0 1164.5 1904.0 1164.6 1907.0 1164.8 1910.0 1164.9 1913.0 1165.0 1916.0 1165.1 1919.0 1165.2 1922.0 1165.3 1925.0 1165.4 1928.0 1165.5"/>
<path stroke="#705f91" d="M286.7 649.1 L289.5 650.5 292.1 652.1 294.6 653.8 297.1 655.5 299.5 657.3 301.8 659.2 304.0 661.2 306.2 663.2 308.3 665.2 310.3 667.3 312.3 669.5 314.3 671.7 316.1 674.0 317.9 676.3 319.7 678.6 321.4 681.0 323.1 683.5 324.7 685.9 326.3 688.4 327.8 691.0 329.3 693.5 330.8 696.2 332.2 698.8 333.6 701.4 335.0 704.1 336.4 706.8 337.7 709.6 339.0 712.3 340.3 715.1 341.6 717.9 342.9 720.7 344.2 723.5 345.4 726.3 346.7 729.1 347.9 731.9 349.2 734.7 350.4 737.6 351.7 740.4 352.9 743.2 354.2 746.1 355.5 748.9 356.8 751.7 358.1 754.5 359.4 757.3 360.8 760.0 362.1 762.8 363.5 765.5 364.9 768.2 366.4 770.9 367.9 773.6 369.4 776.3 370.9 778.9 372.4 781.6 374.0 784.2 375.6 786.8 377.2 789.4 378.8 791.9 380.5 794.4 382.2 797.0 383.9 799.5 385.6 801.9 387.4 804.4 389.2 806.8 391.0 809.2 392.8 811.6 394.7 813.9 396.6 816.3 398.5 818.6 400.5 820.9 402.4 823.1 404.4 825.4 406.4 827.6 408.5 829.8 410.6 832.0 412.7 834.1 414.8 836.2 416.9 838.3 419.1 840.3 421.3 842.4 423.6 844.4 425.8 846.3 428.1 848.3 430.4 850.2 432.8 852.1 435.1 853.9 437.5 855.8 440.0 857.6 442.4 859.3 444.9 861.1 447.4 862.8 449.9 864.4 452.5 866.1 455.1 867.7 457.7 869.3 460.4 870.8 463.0 872.3 465.8 873.8 468.5 875.2 471.3 876.6 474.0 878.0 476.9 879.4 479.7 880.7 482.5 882.0 L484.6 900.5 L487.0 902.1 489.5 903.8 492.0 905.5 494.5 907.2 497.0 908.9 499.5 910.6 502.0 912.2 504.5 913.9 507.0 915.6 509.6 917.2 512.1 918.8 514.7 920.5 517.2 922.1 519.8 923.7 522.4 925.3 525.0 926.9 527.6 928.4 530.2 930.0 532.8 931.5 535.5 933.1 538.1 934.6 540.8 936.1 543.4 937.5 546.1 939.0 548.8 940.5 551.4 941.9 554.1 943.3 556.8 944.7 559.5 946.0 562.2 947.4 565.0 948.7 567.7 950.0 570.4 951.3 573.2 952.6 575.9 953.8 578.7 955.0 581.4 956.2 584.2 957.3 587.0 958.5 589.8 959.6 592.6 960.7 595.4 961.7 598.2 962.7 601.0 963.7 603.8 964.7 606.6 965.6 609.5 966.5 612.3 967.4 615.2 968.2 618.0 969.0 620.9 969.8 623.7 970.5 626.6 971.2 629.5 971.9 632.4 972.5 635.2 973.1 638.1 973.7 641.0 974.2 643.9 974.7 646.8 975.2 649.7 975.6 652.7 976.0 655.6 976.4 658.5 976.7 661.4 977.0 664.4 977.3 667.3 977.5 670.3 977.7 673.2 977.9 676.2 978.1 679.1 978.3 682.1 978.4 685.0 978.5 688.0 978.6 691.0 978.6 693.9 978.6 696.9 978.7 699.9 978.7 702.9 978.6 705.9 978.6 708.9 978.5 711.9 978.5 714.9 978.4 717.8 978.3 720.9 978.1 723.9 978.0 726.9 977.8 729.9 977.7 732.9 977.5 735.9 977.3 738.9 977.1 741.9 976.9 744.9 976.7 748.0 976.5 751.0 976.3 754.0 976.0 757.0 975.8 760.1 975.5 763.1 975.3 766.1 975.0 769.2 974.8 772.2 974.5 775.2 974.3 778.3 974.0 781.3 973.8 784.3 973.5 787.4 973.2 790.4 973.0 793.4 972.7 796.5 972.5 799.5 972.2 802.5 972.0 805.6 971.8 808.6 971.6 811.6 971.3 814.7 971.1 817.7 970.9 820.7 970.7 823.8 970.6 826.8 970.4 829.8 970.2 832.9 970.1 835.9 970.0 838.9 969.8 842.0 969.7 845.0 969.6 848.0 969.6 851.0 969.5 854.1 969.5 857.1 969.5 860.1 969.5 863.1 969.5 866.1 969.5 869.1 969.6 872.1 969.7 875.2 969.8 878.2 969.9 881.2 970.0 884.2 970.2 887.2 970.3 890.2 970.5 893.2 970.7 896.1 971.0 899.1 971.2 902.1 971.5 905.1 971.7 908.1 972.0 911.1 972.3 914.1 972.7 917.0 973.0 920.0 973.4 923.0 973.8 925.9 974.2 928.9 974.6 931.9 975.0 934.8 975.4 937.8 975.9 940.7 976.4 943.7 976.9 946.6 977.4 949.6 977.9 952.5 978.5 955.5 979.0 958.4 979.6 961.3 980.2 964.3 980.8 967.2 981.4 970.1 982.1 973.1 982.7 976.0 983.4 978.9 984.1 981.8 984.7 984.7 985.5 987.6 986.2 990.5 986.9 993.4 987.7 996.3 988.4 999.2 989.2 1002.1 990.0 1005.0 990.8 1007.9 991.6 1010.8 992.5 1013.6 993.3 1016.5 994.2 1019.4 995.0 1022.3 995.9 1025.1 996.8 1028.0 997.7 1030.9 998.6 1033.7 999.5 1036.6 1000.4 1039.4 1001.4 1042.3 1002.3 1045.2 1003.3 1048.0 1004.2 1050.9 1005.2 1053.7 1006.2 1056.6 1007.2 1059.4 1008.1 1062.2 1009.1 1065.1 1010.1 1067.9 1011.2 1070.8 1012.2 1073.6 1013.2 1076.4 1014.2 1079.3 1015.2 1082.1 1016.3 1084.9 1017.3 1087.8 1018.4 1090.6 1019.4 1093.4 1020.5 1096.3 1021.5 1099.1 1022.6 1101.9 1023.6 1104.8 1024.7 1107.6 1025.7 1110.4 1026.8 1113.3 1027.9 1116.1 1028.9 1118.9 1030.0 1121.7 1031.1 1124.6 1032.1 1127.4 1033.2 1130.2 1034.3 1133.1 1035.3 1135.9 1036.4 1138.7 1037.4 1141.6 1038.5 1144.4 1039.5 1147.2 1040.6 1150.1 1041.6 1152.9 1042.7 1155.7 1043.7 1158.6 1044.8 1161.4 1045.8 1164.3 1046.8 1167.1 1047.9 1169.9 1048.9 1172.8 1049.9 1175.6 1050.9 1178.5 1051.9 1181.3 1052.9 1184.2 1053.9 1187.0 1054.9 1189.9 1055.8 1192.7 1056.8 1195.6 1057.8 1198.5 1058.7 1201.3 1059.7 1204.2 1060.6 1207.0 1061.6 1209.9 1062.5 1212.8 1063.4 1215.6 1064.3 1218.5 1065.3 1221.4 1066.2 1224.2 1067.1 1227.1 1068.0 1230.0 1068.9 1232.9 1069.8 1235.8 1070.6 1238.6 1071.5 1241.5 1072.4 1244.4 1073.2 1247.3 1074.1 1250.2 1075.0 1253.1 1075.8 1255.9 1076.6 1258.8 1077.5 1261.7 1078.3 1264.6 1079.1 1267.5 1080.0 1270.4 1080.8 1273.3 1081.6 1276.2 1082.4 1279.1 1083.2 1282.0 1084.0 1284.9 1084.8 1287.8 1085.6 1290.7 1086.3 1293.6 1087.1 1296.5 1087.9 1299.4 1088.6 1302.3 1089.4 1305.2 1090.2 1308.1 1090.9 1311.1 1091.6 1314.0 1092.4 1316.9 1093.1 1319.8 1093.9 1322.7 1094.6 1325.6 1095.3 1328.5 1096.0 1331.5 1096.7 1334.4 1097.4 1337.3 1098.1 1340.2 1098.8 1343.2 1099.5 1346.1 1100.2 1349.0 1100.9 1351.9 1101.6 1354.9 1102.3 1357.8 1102.9 1360.7 1103.6 1363.7 1104.3 1366.6 1104.9 1369.5 1105.6 1372.5 1106.2 1375.4 1106.9 1378.3 1107.5 1381.3 1108.2 1384.2 1108.8 1387.1 1109.4 1390.1 1110.1 1393.0 1110.7 1396.0 1111.3 1398.9 1111.9 1401.8 1112.6 1404.8 1113.2 1407.7 1113.8 1410.7 1114.4 1413.6 1115.0 1416.6 1115.6 1419.5 1116.1 1422.5 1116.7 1425.4 1117.3 1428.4 1117.9 1431.3 1118.5 1434.3 1119.0 1437.2 1119.6 1440.2 1120.2 1443.1 1120.7 1446.1 1121.3 1449.1 1121.8 1452.0 1122.4 1455.0 1122.9 1457.9 1123.5 1460.9 1124.0 1463.8 1124.5 1466.8 1125.1 1469.8 1125.6 1472.7 1126.1 1475.7 1126.6 1478.7 1127.1 1481.6 1127.6 1484.6 1128.1 1487.6 1128.6 1490.5 1129.1 1493.5 1129.6 1496.5 1130.1 1499.4 1130.6 1502.4 1131.1 1505.4 1131.6 1508.3 1132.1 1511.3 1132.5 1514.3 1133.0 1517.3 1133.5 1520.2 1133.9 1523.2 1134.4 1526.2 1134.9 1529.2 1135.3 1532.1 1135.8 1535.1 1136.2 1538.1 1136.6 1541.1 1137.1 1544.0 1137.5 1547.0 1137.9 1550.0 1138.4 1553.0 1138.8 1556.0 1139.2 1558.9 1139.6 1561.9 1140.0 1564.9 1140.4 1567.9 1140.9 1570.9 1141.3 1573.9 1141.7 1576.8 1142.1 1579.8 1142.4 1582.8 1142.8 1585.8 1143.2 1588.8 1143.6 1591.8 1144.0 1594.8 1144.4 1597.7 1144.7 1600.7 1145.1 1603.7 1145.5 1606.7 1145.8 1609.7 1146.2 1612.7 1146.5 1615.7 1146.9 1618.7 1147.2 1621.7 1147.6 1624.7 1147.9 1627.7 1148.3 1630.6 1148.6 1633.6 1148.9 1636.6 1149.3 1639.6 1149.6 1642.6 1149.9 1645.6 1150.2 1648.6 1150.5 1651.6 1150.9 1654.6 1151.2 1657.6 1151.5 1660.6 1151.8 1663.6 1152.1 1666.6 1152.4 1669.6 1152.7 1672.6 1153.0 1675.6 1153.2 1678.6 1153.5 1681.6 1153.8 1684.6 1154.1 1687.6 1154.4 1690.6 1154.6 1693.6 1154.9 1696.6 1155.2 1699.6 1155.4 1702.6 1155.7 1705.6 1155.9 1708.6 1156.2 1711.6 1156.4 1714.6 1156.7 1717.6 1156.9 1720.6 1157.2 1723.6 1157.4 1726.6 1157.7 1729.6 1157.9 1732.6 1158.1 1735.6 1158.3 1738.6 1158.6 1741.6 1158.8 1744.6 1159.0 1747.6 1159.2 1750.6 1159.4 1753.6 1159.6 1756.6 1159.8 1759.7 1160.0 1762.7 1160.2 1765.7 1160.4 1768.7 1160.6 1771.7 1160.8 1774.7 1161.0 1777.7 1161.2 1780.7 1161.4 1783.7 1161.6 1786.7 1161.7 1789.7 1161.9 1792.7 1162.1 1795.7 1162.2 1798.7 1162.4 1801.7 1162.6 1804.7 1162.7 1807.7 1162.9 1810.8 1163.0 1813.8 1163.2 1816.8 1163.3 1819.8 1163.5 1822.8 1163.6 1825.8 1163.8 1828.8 1163.9 1831.8 1164.0 1834.8 1164.2 1837.8 1164.3 1840.8 1164.4 1843.8 1164.6 1846.8 1164.7 1849.8 1164.8 1852.9 1164.9 1855.9 1165.0 1858.9 1165.1 1861.9 1165.2 1864.9 1165.3 1867.9 1165.4 1870.9 1165.5 1873.9 1165.6 1876.9 1165.7 1879.9 1165.8 1882.9 1165.9 1885.9 1166.0 1888.9 1166.1 1891.9 1166.2 1894.9 1166.3 1897.9 1166.3 1901.0 1166.4 1904.0 1166.5 1907.0 1166.5 1910.0 1166.6 1913.0 1166.7 1916.0 1166.7 1919.0 1166.8 1922.0 1166.9 1925.0 1166.9 1928.0 1167.0"/>
<path stroke="#589ba9" d="M372.0 42.5 L372.5 45.5 373.0 48.5 373.5 51.4 374.0 54.4 374.6 57.4 375.1 60.4 375.6 63.4 376.1 66.3 376.7 69.3 377.2 72.3 377.8 75.3 378.3 78.3 378.8 81.3 379.4 84.3 379.9 87.3 380.5 90.3 381.0 93.2 381.6 96.2 382.2 99.2 382.7 102.2 383.3 105.2 383.9 108.2 384.5 111.2 385.1 114.2 385.7 117.2 386.3 120.2 386.9 123.2 387.5 126.2 388.1 129.2 388.8 132.2 389.4 135.1 390.0 138.1 390.7 141.1 391.3 144.1 392.0 147.1 392.7 150.1 393.3 153.0 394.0 156.0 394.7 159.0 395.4 162.0 396.1 164.9 396.9 167.9 397.6 170.9 398.3 173.8 399.1 176.8 399.8 179.8 400.6 182.7 401.4 185.7 402.2 188.6 403.0 191.5 403.8 194.5 404.6 197.4 405.4 200.4 406.3 203.3 407.1 206.2 408.0 209.1 408.9 212.0 409.7 215.0 410.6 217.9 411.6 220.8 412.5 223.7 413.4 226.5 414.4 229.4 415.4 232.3 416.3 235.2 417.3 238.0 418.4 240.9 419.4 243.7 420.5 246.6 421.5 249.4 422.6 252.2 423.7 255.0 424.9 257.9 426.0 260.6 427.2 263.4 428.4 266.2 429.6 269.0 430.8 271.7 432.1 274.5 433.4 277.2 434.7 279.9 436.0 282.6 437.3 285.3 438.7 288.0 440.1 290.7 441.5 293.3 443.0 296.0 444.5 298.6 446.0 301.2 447.5 303.8 449.1 306.4 450.7 308.9 452.3 311.5 453.9 314.0 455.6 316.5 457.3 319.1 459.1 321.5 460.9 324.0 462.7 326.5 464.5 328.9 466.4 331.3 468.3 333.7 470.2 336.1 472.2 338.4 474.2 340.8 476.3 343.1 478.3 345.4 480.5 347.7 482.5 350.0 L485.2 414.0 L499.6 416.7 L501.9 418.7 504.3 420.7 506.5 422.7 508.7 424.8 510.9 426.9 513.0 429.0 515.0 431.2 517.1 433.4 519.0 435.7 521.0 438.0 522.9 440.3 524.7 442.6 526.5 445.0 528.3 447.4 530.1 449.8 531.8 452.2 533.5 454.7 535.2 457.2 536.9 459.7 538.5 462.2 540.1 464.7 541.7 467.2 543.3 469.8 544.9 472.3 546.5 474.9 548.0 477.5 549.6 480.1 551.2 482.6 552.7 485.2 554.3 487.8 555.8 490.4 557.4 493.0 559.0 495.6 560.5 498.1 562.1 500.7 563.7 503.3 565.4 505.8 567.0 508.4 568.7 510.9 570.3 513.4 572.0 515.9 573.8 518.4 575.5 520.9 577.3 523.3 579.1 525.7 581.0 528.1 582.9 530.5 584.8 532.9 586.7 535.2 588.7 537.5 590.7 539.8 592.7 542.1 594.8 544.3 596.9 546.5 599.0 548.6 601.2 550.7 603.3 552.8 605.6 554.9 607.8 556.9 610.0 558.9 612.3 560.9 614.6 562.8 617.0 564.6 619.4 566.5 621.7 568.2 624.2 570.0 626.6 571.7 629.1 573.3 631.6 574.9 634.1 576.5 636.6 578.0 639.2 579.5 641.8 580.9 644.4 582.2 647.0 583.6 649.7 584.8 652.4 586.0 655.1 587.1 657.8 588.2 660.6 589.3 663.3 590.2 666.1 591.1 668.9 592.0 671.8 592.8 674.6 593.5 677.5 594.1 680.4 594.7 683.3 595.2 686.2 595.7 689.2 596.1 692.1 596.4 695.1 596.7 698.1 596.9 701.1 597.1 704.1 597.1 707.1 597.2 710.2 597.2 713.2 597.1 716.3 597.0 719.3 596.8 722.3 596.6 725.4 596.3 728.4 596.0 731.5 595.6 734.5 595.2 737.6 594.7 740.6 594.2 743.6 593.7 746.6 593.1 749.6 592.5 752.6 591.9 755.6 591.2 758.6 590.5 761.6 589.7 764.5 588.9 767.4 588.1 770.4 587.3 773.3 586.4 776.2 585.5 779.1 584.7 782.0 583.7 784.9 582.8 787.8 581.9 790.6 581.0 793.5 580.0 796.4 579.1 799.3 578.1 802.1 577.2 805.0 576.3 807.9 575.3 810.7 574.4 813.6 573.5 816.5 572.6 819.4 571.8 822.3 570.9 825.1 570.1 828.0 569.3 830.9 568.5 833.9 567.8 836.8 567.0 839.7 566.4 842.7 565.7 845.6 565.1 848.6 564.6 851.5 564.0 854.5 563.5 857.4 563.1 860.4 562.7 863.4 562.4 866.4 562.1 869.3 561.8 872.3 561.6 875.3 561.5 878.3 561.4 881.2 561.3 884.2 561.3 887.1 561.4 890.1 561.5 893.0 561.7 896.0 562.0 898.9 562.3 901.8 562.7 904.8 563.1 907.7 563.7 910.5 564.2 913.4 564.9 916.3 565.6 919.1 566.4 922.0 567.2 924.8 568.1 927.6 569.1 930.4 570.1 933.2 571.2 935.9 572.3 938.7 573.5 941.4 574.7 944.1 575.9 946.8 577.3 949.5 578.6 952.2 580.0 954.8 581.5 957.4 582.9 960.0 584.5 962.6 586.0 965.1 587.6 967.7 589.2 970.2 590.9 972.7 592.6 975.2 594.3 977.7 596.0 980.1 597.8 982.6 599.6 985.0 601.4 987.4 603.3 989.8 605.2 992.2 607.1 994.6 609.0 996.9 610.9 999.3 612.8 1001.6 614.8 1004.0 616.7 1006.3 618.7 1008.6 620.7 1010.9 622.7 1013.2 624.7 1015.5 626.7 1017.7 628.7 1020.0 630.8 1022.3 632.8 1024.5 634.8 1026.8 636.8 1029.0 638.9 1031.3 640.9 1033.5 642.9 1035.7 644.9 1037.9 647.0 1040.2 649.0 1042.4 651.0 1044.6 653.1 1046.8 655.1 1048.9 657.2 1051.1 659.2 1053.3 661.3 1055.4 663.3 1057.6 665.4 1059.7 667.5 1061.8 669.6 1063.9 671.7 1066.0 673.8 1068.1 676.0 1070.2 678.1 1072.3 680.2 1074.3 682.4 1076.4 684.6 1078.4 686.7 1080.5 688.9 1082.5 691.1 1084.6 693.2 1086.6 695.4 1088.6 697.6 1090.7 699.8 1092.7 702.0 1094.7 704.2 1096.8 706.4 1098.8 708.6 1100.8 710.8 1102.9 713.0 1104.9 715.2 1106.9 717.4 1109.0 719.6 1111.0 721.8 1113.0 724.0 1115.1 726.2 1117.1 728.4 1119.1 730.6 1121.2 732.8 1123.2 735.0 1125.2 737.2 1127.3 739.4 1129.3 741.6 1131.4 743.8 1133.4 746.0 1135.5 748.2 1137.5 750.4 1139.6 752.6 1141.6 754.8 1143.7 757.0 1145.7 759.2 1147.8 761.4 1149.8 763.5 1151.9 765.7 1154.0 767.9 1156.1 770.1 1158.1 772.3 1160.2 774.4 1162.3 776.6 1164.4 778.8 1166.4 780.9 1168.5 783.1 1170.6 785.3 1172.7 787.4 1174.8 789.6 1176.9 791.7 1179.0 793.9 1181.1 796.0 1183.2 798.1 1185.4 800.3 1187.5 802.4 1189.6 804.5 1191.7 806.7 1193.9 808.8 1196.0 810.9 1198.2 813.0 1200.3 815.1 1202.5 817.2 1204.6 819.3 1206.8 821.3 1209.0 823.4 1211.1 825.5 1213.3 827.6 1215.5 829.6 1217.7 831.7 1219.9 833.7 1222.1 835.8 1224.3 837.8 1226.5 839.8 1228.7 841.9 1230.9 843.9 1233.2 845.9 1235.4 847.9 1237.6 849.9 1239.9 851.9 1242.2 853.8 1244.4 855.8 1246.7 857.8 1249.0 859.7 1251.2 861.7 1253.5 863.6 1255.8 865.5 1258.1 867.5 1260.4 869.4 1262.8 871.3 1265.1 873.2 1267.4 875.1 1269.7 876.9 1272.1 878.8 1274.4 880.7 1276.8 882.5 1279.2 884.4 1281.5 886.2 1283.9 888.1 1286.3 889.9 1288.7 891.7 1291.1 893.5 1293.5 895.3 1295.9 897.1 1298.3 898.9 1300.7 900.7 1303.1 902.5 1305.5 904.3 1308.0 906.0 1310.4 907.8 1312.8 909.5 1315.3 911.2 1317.8 913.0 1320.2 914.7 1322.7 916.4 1325.2 918.1 1327.6 919.8 1330.1 921.5 1332.6 923.2 1335.1 924.9 1337.6 926.6 1340.1 928.2 1342.6 929.9 1345.1 931.5 1347.6 933.2 1350.2 934.8 1352.7 936.4 1355.2 938.1 1357.8 939.7 1360.3 941.3 1362.9 942.9 1365.4 944.5 1368.0 946.1 1370.5 947.6 1373.1 949.2 1375.7 950.8 1378.2 952.3 1380.8 953.9 1383.4 955.4 1386.0 957.0 1388.6 958.5 1391.2 960.0 1393.8 961.6 1396.4 963.1 1399.0 964.6 1401.6 966.1 1404.2 967.6 1406.9 969.1 1409.5 970.5 1412.1 972.0 1414.8 973.5 1417.4 974.9 1420.0 976.4 1422.7 977.8 1425.3 979.3 1428.0 980.7 1430.7 982.1 1433.3 983.6 1436.0 985.0 1438.6 986.4 1441.3 987.8 1444.0 989.2 1446.7 990.6 1449.3 992.0 1452.0 993.3 1454.7 994.7 1457.4 996.1 1460.1 997.4 1462.8 998.8 1465.5 1000.1 1468.2 1001.5 1470.9 1002.8 1473.6 1004.2 1476.3 1005.5 1479.0 1006.8 1481.8 1008.1 1484.5 1009.4 1487.2 1010.7 1489.9 1012.0 1492.7 1013.3 1495.4 1014.6 1498.1 1015.9 1500.9 1017.1 1503.6 1018.4 1506.3 1019.7 1509.1 1020.9 1511.8 1022.2 1514.6 1023.4 1517.3 1024.6 1520.1 1025.9 1522.8 1027.1 1525.6 1028.3 1528.3 1029.5 1531.1 1030.7 1533.9 1032.0 1536.6 1033.1 1539.4 1034.3 1542.2 1035.5 1544.9 1036.7 1547.7 1037.9 1550.5 1039.1 1553.2 1040.2 1556.0 1041.4 1558.8 1042.5 1561.6 1043.7 1564.3 1044.8 1567.1 1046.0 1569.9 1047.1 1572.7 1048.3 1575.5 1049.4 1578.3 1050.5 1581.1 1051.6 1583.9 1052.7 1586.6 1053.8 1589.4 1054.9 1592.2 1056.0 1595.0 1057.1 1597.8 1058.2 1600.6 1059.3 1603.4 1060.3 1606.2 1061.4 1609.1 1062.5 1611.9 1063.5 1614.7 1064.6 1617.5 1065.6 1620.3 1066.6 1623.1 1067.7 1625.9 1068.7 1628.7 1069.7 1631.6 1070.8 1634.4 1071.8 1637.2 1072.8 1640.0 1073.8 1642.9 1074.8 1645.7 1075.8 1648.5 1076.8 1651.4 1077.7 1654.2 1078.7 1657.0 1079.7 1659.9 1080.6 1662.7 1081.6 1665.5 1082.6 1668.4 1083.5 1671.2 1084.5 1674.1 1085.4 1676.9 1086.3 1679.8 1087.3 1682.6 1088.2 1685.5 1089.1 1688.3 1090.0 1691.2 1090.9 1694.0 1091.8 1696.9 1092.7 1699.7 1093.6 1702.6 1094.5 1705.5 1095.4 1708.3 1096.2 1711.2 1097.1 1714.1 1098.0 1716.9 1098.8 1719.8 1099.7 1722.7 1100.5 1725.5 1101.4 1728.4 1102.2 1731.3 1103.1 1734.2 1103.9 1737.1 1104.7 1739.9 1105.5 1742.8 1106.3 1745.7 1107.2 1748.6 1108.0 1751.5 1108.7 1754.4 1109.5 1757.3 1110.3 1760.2 1111.1 1763.1 1111.9 1766.0 1112.7 1768.9 1113.4 1771.8 1114.2 1774.7 1114.9 1777.6 1115.7 1780.5 1116.4 1783.4 1117.2 1786.3 1117.9 1789.2 1118.6 1792.1 1119.3 1795.1 1120.1 1798.0 1120.8 1800.9 1121.5 1803.8 1122.2 1806.7 1122.9 1809.7 1123.6 1812.6 1124.3 1815.5 1124.9 1818.4 1125.6 1821.4 1126.3 1824.3 1126.9 1827.2 1127.6 1830.2 1128.3 1833.1 1128.9 1836.0 1129.5 1839.0 1130.2 1841.9 1130.8 1844.9 1131.4 1847.8 1132.1 1850.8 1132.7 1853.7 1133.3 1856.7 1133.9 1859.6 1134.5 1862.6 1135.1 1865.5 1135.7 1868.5 1136.3 1871.5 1136.9 1874.4 1137.4 1877.4 1138.0 1880.3 1138.6 1883.3 1139.1 1886.3 1139.7 1889.3 1140.2 1892.2 1140.8 1895.2 1141.3 1898.2 1141.8 1901.2 1142.4 1904.1 1142.9 1907.1 1143.4 1910.1 1143.9 1913.1 1144.4 1916.1 1144.9 1919.1 1145.4 1922.0 1145.9 1925.0 1146.4 1928.0 1146.9"/>
</g>
<g font-family="'Liberation Serif', 'Times New Roman', serif" font-weight="bold" stroke="#fff" stroke-width="1.4" stroke-linejoin="round" font-size="68.0" fill="#000" text-anchor="end">
<text x="227.0" y="1209.0">0</text>
<text x="227.0" y="1056.3">0.2</text>
<text x="227.0" y="903.6">0.4</text>
<text x="227.0" y="750.9">0.6</text>
<text x="227.0" y="598.2">0.8</text>
<text x="227.0" y="445.5">1</text>
<text x="227.0" y="292.8">1.2</text>
<text x="227.0" y="140.1">1.4</text>
</g>
<g font-family="'Liberation Serif', 'Times New Roman', serif" font-weight="bold" stroke="#fff" stroke-width="1.4" stroke-linejoin="round" font-size="68.0" fill="#000" text-anchor="middle">
<text transform="translate(281.0 1289.5) scale(1.010 1)">300</text>
<text transform="translate(485.6 1289.5) scale(1.010 1)">350</text>
<text transform="translate(692.1 1289.5) scale(1.010 1)">400</text>
<text transform="translate(895.5 1289.5) scale(1.010 1)">450</text>
<text transform="translate(1101.3 1289.5) scale(1.010 1)">500</text>
<text transform="translate(1306.9 1289.5) scale(1.010 1)">550</text>
<text transform="translate(1512.8 1289.5) scale(1.010 1)">600</text>
<text transform="translate(1717.9 1289.5) scale(1.010 1)">650</text>
<text transform="translate(1921.6 1289.5) scale(1.010 1)">700</text>
</g>
<text x="1101.5" y="1378.5" text-anchor="middle" letter-spacing="0.30" font-family="'Liberation Serif', 'Times New Roman', serif" font-weight="bold" stroke="#fff" stroke-width="1.4" stroke-linejoin="round" font-size="66.0" fill="#b82130">Wavelength (nm)</text>
<text transform="translate(70.5 618.6) rotate(-90)" x="0" y="0" text-anchor="middle" letter-spacing="-0.60" font-family="'Liberation Serif', 'Times New Roman', serif" font-weight="bold" stroke="#fff" stroke-width="1.4" stroke-linejoin="round" font-size="66.0" fill="#b82130">Absorbance</text>
<text x="891.5" y="546.0" text-anchor="middle" font-family="'Liberation Serif', 'Times New Roman', serif" font-weight="bold" stroke="#fff" stroke-width="1.4" stroke-linejoin="round" font-size="88.5" fill="#6b3a98">445</text>
<line x1="1742" y1="213.8" x2="1839" y2="213.8" stroke="#4e749b" stroke-width="8.5"/>
<line x1="1742" y1="326.5" x2="1839" y2="326.5" stroke="#a35150" stroke-width="8.5"/>
<line x1="1742" y1="439.2" x2="1839" y2="439.2" stroke="#94ac62" stroke-width="8.5"/>
<line x1="1742" y1="551.9" x2="1839" y2="551.9" stroke="#705f91" stroke-width="8.5"/>
<line x1="1742" y1="664.6" x2="1839" y2="664.6" stroke="#589ba9" stroke-width="8.5"/>
<text x="1845.0" y="237.8" font-family="'Liberation Serif', 'Times New Roman', serif" font-weight="bold" stroke="#fff" stroke-width="1.4" stroke-linejoin="round" font-size="64.2" fill="#000">12 hrs</text>
<text x="1845.0" y="350.5" font-family="'Liberation Serif', 'Times New Roman', serif" font-weight="bold" stroke="#fff" stroke-width="1.4" stroke-linejoin="round" font-size="64.2" fill="#000">24 hrs</text>
<text x="1845.0" y="463.2" font-family="'Liberation Serif', 'Times New Roman', serif" font-weight="bold" stroke="#fff" stroke-width="1.4" stroke-linejoin="round" font-size="64.2" fill="#000">48 hrs</text>
<text x="1845.0" y="575.9" font-family="'Liberation Serif', 'Times New Roman', serif" font-weight="bold" stroke="#fff" stroke-width="1.4" stroke-linejoin="round" font-size="64.2" fill="#000">72 hrs</text>
<text x="1845.0" y="688.6" font-family="'Liberation Serif', 'Times New Roman', serif" font-weight="bold" stroke="#fff" stroke-width="1.4" stroke-linejoin="round" font-size="64.2" fill="#000">96 hrs</text>
</svg>
</body></html>
